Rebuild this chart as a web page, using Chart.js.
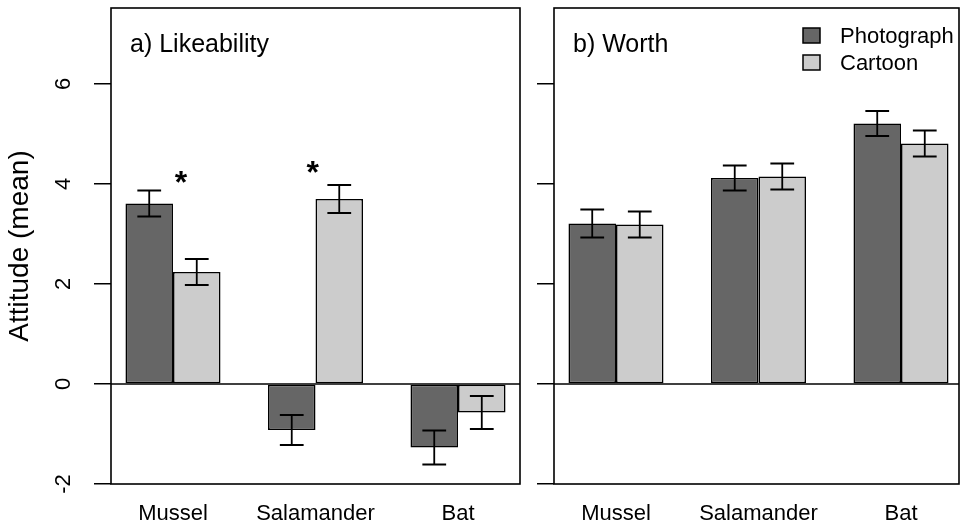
<!DOCTYPE html>
<html><head><meta charset="utf-8">
<script src="https://cdn.jsdelivr.net/npm/chart.js@4.4.1/dist/chart.umd.min.js"></script>
<style>
html,body{margin:0;padding:0;background:#fff;width:960px;height:524px;overflow:hidden;}
canvas{position:absolute;top:0;}
#c1{left:0;} #c2{left:530px;}
</style></head><body>
<canvas id="c1" width="530" height="524"></canvas>
<canvas id="c2" width="430" height="524"></canvas>
<script>
// ---------- data ----------
const categories = ['Mussel', 'Salamander', 'Bat'];
const seriesNames = ['Photograph', 'Cartoon'];
const yTickValues = [-2, 0, 2, 4, 6];

const likePhoto      = [3.61, -0.92, -1.27];
const likePhotoErr   = [0.26, 0.30, 0.34];
const likeCartoon    = [2.24, 3.70, -0.57];
const likeCartoonErr = [0.26, 0.28, 0.33];

const worthPhoto      = [3.21, 4.12, 5.21];
const worthPhotoErr   = [0.28, 0.25, 0.25];
const worthCartoon    = [3.19, 4.15, 4.81];
const worthCartoonErr = [0.26, 0.26, 0.26];

// significance markers (category index, offset within group, attitude value)
const likeSigCat = [0, 1];
const likeSigDx  = [0.056, -0.02];
const likeSigY   = [4.14, 4.34];

// ---------- style ----------
const FONT = "'Liberation Sans', Arial, Helvetica, sans-serif";
const PHOTO_COLOR = '#666666';
const CARTOON_COLOR = '#cccccc';

const decor = {
  id: 'decor',
  beforeDatasetsDraw(chart) {
    const {ctx, chartArea: ca, scales: {y}} = chart;
    const y0 = y.getPixelForValue(0);
    ctx.save();
    ctx.strokeStyle = '#000'; ctx.lineWidth = 1.5;
    ctx.beginPath(); ctx.moveTo(ca.left, y0); ctx.lineTo(ca.right, y0); ctx.stroke();
    ctx.restore();
  },
  afterDatasetsDraw(chart) {
    const {ctx, chartArea: ca, scales: {y}} = chart;
    ctx.save();
    ctx.strokeStyle = '#000'; ctx.lineWidth = 1.8;
    chart.data.datasets.forEach((ds, di) => {
      const meta = chart.getDatasetMeta(di);
      meta.data.forEach((bar, i) => {
        const v = ds.data[i].y, e = ds.err[i];
        const yT = y.getPixelForValue(v + e), yB = y.getPixelForValue(v - e);
        const hw = bar.width / 4;
        ctx.beginPath();
        ctx.moveTo(bar.x, yT); ctx.lineTo(bar.x, yB);
        ctx.moveTo(bar.x - hw, yT); ctx.lineTo(bar.x + hw, yT);
        ctx.moveTo(bar.x - hw, yB); ctx.lineTo(bar.x + hw, yB);
        ctx.stroke();
      });
    });
    ctx.lineWidth = 1.6;
    ctx.strokeRect(ca.left, ca.top, ca.right - ca.left, ca.bottom - ca.top);
    ctx.restore();
  },
  afterDraw(chart, args, o) {
    const {ctx, chartArea: ca, scales: {x, y}} = chart;
    ctx.save();
    ctx.fillStyle = '#000';
    // panel title
    ctx.font = `25px ${FONT}`;
    ctx.textAlign = 'left'; ctx.textBaseline = 'alphabetic';
    ctx.fillText(o.title, ca.left + 19, ca.top + 44);
    // significance asterisks
    if (o.sigCat) {
      ctx.font = `bold 32px ${FONT}`;
      ctx.textAlign = 'center';
      const m = ctx.measureText('*');
      o.sigCat.forEach((c, k) => {
        const px = x.getPixelForValue(c + 1 + o.sigDx[k]);
        const py = y.getPixelForValue(o.sigY[k]) + (m.actualBoundingBoxAscent - m.actualBoundingBoxDescent) / 2;
        ctx.fillText('*', px, py);
      });
    }
    // legend
    if (o.legend) {
      ctx.font = `22px ${FONT}`;
      ctx.textAlign = 'left'; ctx.textBaseline = 'middle';
      ctx.lineWidth = 1.5; ctx.strokeStyle = '#000';
      chart.data.datasets.forEach((ds, i) => {
        const sx = ca.right - 156, cy = ca.top + 27.5 + i * 27;
        ctx.fillStyle = ds.backgroundColor;
        ctx.fillRect(sx, cy - 7.5, 17, 15);
        ctx.strokeRect(sx, cy - 7.5, 17, 15);
        ctx.fillStyle = '#000';
        ctx.fillText(ds.label, sx + 37, cy + 1);
      });
    }
    ctx.restore();
  }
};

function makePanel(id, cfg) {
  const pts = arr => arr.map((v, i) => ({x: i + 1, y: v}));
  return new Chart(document.getElementById(id), {
    type: 'bar',
    data: {
      datasets: [
        {label: seriesNames[0], data: pts(cfg.photo), err: cfg.photoErr,
         backgroundColor: PHOTO_COLOR, borderColor: '#000', borderWidth: 1.6, borderSkipped: false,
         categoryPercentage: 0.667, barPercentage: 1},
        {label: seriesNames[1], data: pts(cfg.cartoon), err: cfg.cartoonErr,
         backgroundColor: CARTOON_COLOR, borderColor: '#000', borderWidth: 1.6, borderSkipped: false,
         categoryPercentage: 0.667, barPercentage: 1}
      ]
    },
    options: {
      responsive: false, devicePixelRatio: 1, animation: false, events: [],
      layout: {padding: {left: 0, top: 8, right: cfg.padRight, bottom: 0}},
      plugins: {
        legend: {display: false}, tooltip: {enabled: false},
        decor: {title: cfg.title, legend: cfg.legend, sigCat: cfg.sigCat, sigDx: cfg.sigDx, sigY: cfg.sigY}
      },
      scales: {
        x: {
          type: 'linear', min: 0.565, max: cfg.xMax, offset: false,
          grid: {display: false, drawTicks: false, offset: false}, border: {display: false},
          afterBuildTicks: s => { s.ticks = categories.map((c, i) => ({value: i + 1})); },
          ticks: {callback: v => categories[v - 1] ?? '', font: {family: FONT, size: 22}, color: '#000',
                  padding: 17, maxRotation: 0, minRotation: 0, autoSkip: false},
          afterFit: s => { s.height = 40; s.paddingLeft = 0; s.paddingRight = 0; }
        },
        y: {
          type: 'linear', min: -2, max: 7.52,
          grid: {display: true, drawOnChartArea: false, drawTicks: true, tickLength: 17, color: '#000', lineWidth: 1.5},
          border: {display: false},
          afterBuildTicks: s => { s.ticks = yTickValues.map(v => ({value: v})); },
          ticks: {display: cfg.yLabels, font: {family: FONT, size: 22}, color: '#000', padding: 20,
                  minRotation: 90, maxRotation: 90, crossAlign: 'center'},
          title: {display: cfg.yLabels, text: 'Attitude (mean)', color: '#000',
                  font: {family: FONT, size: 28, lineHeight: 1.2}, padding: {top: 3, bottom: 0}},
          afterFit: s => { s.width = cfg.yWidth; s.paddingTop = 0; s.paddingBottom = 0; }
        }
      }
    },
    plugins: [decor]
  });
}

makePanel('c1', {
  photo: likePhoto, photoErr: likePhotoErr, cartoon: likeCartoon, cartoonErr: likeCartoonErr,
  title: 'a) Likeability', legend: false, sigCat: likeSigCat, sigDx: likeSigDx, sigY: likeSigY,
  yLabels: true, yWidth: 111, padRight: 10, xMax: 3.435
});
makePanel('c2', {
  photo: worthPhoto, photoErr: worthPhotoErr, cartoon: worthCartoon, cartoonErr: worthCartoonErr,
  title: 'b) Worth', legend: true, sigCat: null,
  yLabels: false, yWidth: 24, padRight: 1, xMax: 3.407
});
</script>
</body></html>
